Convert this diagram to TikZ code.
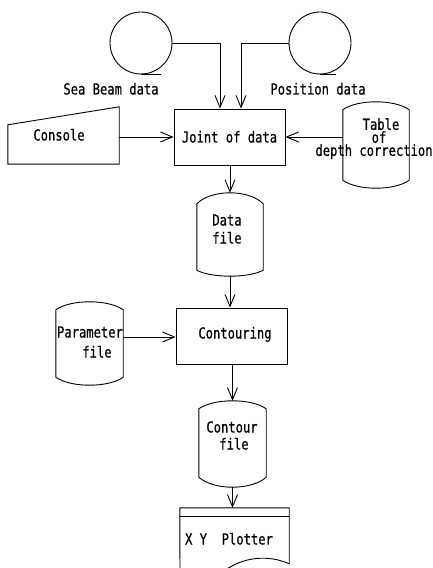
\documentclass[tikz,border=0pt]{standalone}
\usepackage{fontspec}
\setmainfont{DejaVu Sans Mono}[FakeStretch=0.8, FakeBold=0.6]
\usetikzlibrary{arrows.meta,calc}
\newcommand{\drum}[7]{%
 \node[ghost, minimum width=#4bp, minimum height=#5bp] (#1) at (#2,#3) {};
 \draw[shp] ($(#1.north west)+(0,#6)$)
   .. controls ($(#1.north west)+(0.22*#4,-#6/3)$) and ($(#1.north east)+(-0.22*#4,-#6/3)$) .. ($(#1.north east)+(0,#6)$)
   -- ($(#1.south east)+(0,-#7)$)
   .. controls ($(#1.south east)+(-0.22*#4,#7/3)$) and ($(#1.south west)+(0.22*#4,#7/3)$) .. ($(#1.south west)+(0,-#7)$)
   -- cycle;}
\begin{document}
\begin{tikzpicture}[x=1bp,y=-1bp,
 shp/.style={draw, line width=0.9bp},
 arr/.style={line width=0.9bp, -{Straight Barb[length=12bp,width=10bp,line width=0.9bp]}},
 txt/.style={inner sep=0, text height=11bp, text depth=0bp, font=\fontsize{15.2bp}{17bp}\selectfont},
 ghost/.style={inner sep=0, draw=none, rectangle}]
\useasboundingbox (0,0) rectangle (433,568);
\clip (0,0) rectangle (433,568);

% tapes
\node[shp, circle, minimum size=62bp, inner sep=0] (sb) at (141,43) {};
\draw[shp] (sb.south) -- ++(20,0);
\node[shp, circle, minimum size=62bp, inner sep=0] (pos) at (320,43) {};
\draw[shp] (pos.south) -- ++(16,0);
\node[txt] (lsb) at (111,89) {Sea Beam data};
\node[txt] (lpos) at (318,89) {Position data};

% joint box
\node[shp, txt, minimum width=111bp, minimum height=56bp] (joint) at (229.5,137) {Joint of data};

% console
\node[ghost, minimum width=111bp, minimum height=57bp] (con) at (63.5,135.5) {};
\draw[shp] (con.south west) -- ($(con.north west)+(0,18)$) -- (con.north east) -- (con.south east) -- cycle;
\node[txt] (lcon) at (59,135) {Console};

% drums
\drum{tab}{376}{145}{66}{86}{8}{8}
\node[inner sep=0, anchor=north, align=center, font=\fontsize{15.2bp}{13bp}\selectfont] (lt) at (374,118)
  {\hspace*{14bp}Table\\\hspace*{10bp}of\\depth correction};

\drum{df}{230}{234.5}{66}{83}{11}{6}
\node[txt] (ld1) at (227,220) {Data};
\node[txt] (ld2) at (227,238) {file};

% contouring
\node[shp, ghost, draw, minimum width=111bp, minimum height=56bp] (cont) at (231.5,336) {};
\node[txt] (lcont) at (235,333) {Contouring};

\drum{par}{89.5}{343.5}{67}{83}{8}{8}
\node[txt] (lp1) at (90,332) {Parameter};
\node[txt] (lp2) at (97,352) {file};

\drum{cf}{232.5}{444}{67}{86}{8}{10}
\node[txt] (lc1) at (232,427) {Contour};
\node[txt] (lc2) at (234,444) {file};

% plotter
\node[ghost, minimum width=109bp, minimum height=62bp] (plot) at (234.5,539) {};
\draw[shp] (232,566) .. controls (215,576) and (195,580) .. (180,577)
  -- (plot.north west) -- (plot.north east) -- ($(plot.north east)+(0,56)$)
  .. controls (272,556) and (250,556) .. (232,566);
\draw[shp] ($(plot.north west)+(0,9)$) -- ($(plot.north east)+(0,9)$);
\node[txt] (lplot) at (229,539) {X~Y~~Plotter};

% connectors
\coordinate (jn1) at ($(joint.north)+(-9.5,0)$);
\coordinate (jn2) at ($(joint.north)+(11.5,0)$);
\draw[arr] (sb.east) -| (jn1);
\draw[arr] (pos.west) -| (jn2);
\draw[arr] (con.east |- joint.west) -- (joint.west);
\draw[arr] (tab.west |- joint.east) -- (joint.east);
\draw[arr] (joint.south -| df.north) -- (df.north);
\draw[arr] (df.south) -- (df.south |- cont.north);
\coordinate (pa) at ($(par.east)+(0,-6.5)$);
\draw[arr] (pa) -- (pa -| cont.west);
\draw[arr] (cont.south -| cf.north) -- (cf.north);
\draw[arr] (cf.south) -- (cf.south |- plot.north);
\end{tikzpicture}
\end{document}
